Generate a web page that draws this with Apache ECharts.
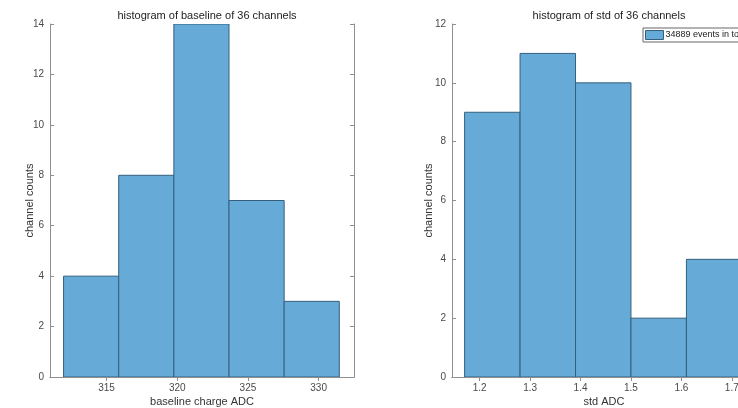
<!DOCTYPE html>
<html>
<head>
<meta charset="utf-8">
<script src="https://cdn.jsdelivr.net/npm/echarts@6/dist/echarts.min.js"></script>
<style>
  html, body { margin: 0; padding: 0; overflow: hidden; background: #fff; }
  #chart { width: 800px; height: 408px; }
</style>
</head>
<body>
<div id="chart"></div>
<script>
// baseline histogram (left)
const baseEdges = [311.96, 315.86, 319.76, 323.66, 327.56, 331.46];
const baseCounts = [4, 8, 14, 7, 3];
const baseTicks = [315, 320, 325, 330];

// std histogram (right)
const stdEdges = [1.170, 1.280, 1.390, 1.500, 1.610, 1.720];
const stdCounts = [9, 11, 10, 2, 4];
const stdTicks = [1.2, 1.3, 1.4, 1.5, 1.6, 1.7];

const legendName = '34889 events in total';

const fillColor = '#66aad7';
const edgeColor = '#34607e';
const boxColor = '#8f8f8f';
const textColor = '#4a4a4a';
const font = 'Liberation Sans, Arial, sans-serif';

function toBins(edges, counts) {
  return counts.map((c, i) => [edges[i], edges[i + 1], c]);
}

function renderBin(params, api) {
  const p0 = api.coord([api.value(0), api.value(2)]);
  const p1 = api.coord([api.value(1), 0]);
  return {
    type: 'rect',
    shape: { x: p0[0], y: p0[1], width: p1[0] - p0[0], height: p1[1] - p0[1] },
    style: { fill: fillColor, stroke: edgeColor, lineWidth: 1 }
  };
}

function xAxes(gridIndex, min, max, ticks, name) {
  const lbl = v => (Number.isInteger(v) ? String(v) : v.toFixed(1));
  return [{
    type: 'value', gridIndex, min, max, position: 'bottom',
    name, nameLocation: 'middle', nameGap: 19, nameMoveOverlap: false,
    nameTextStyle: { color: '#333', fontSize: 11, fontFamily: font },
    axisLine: { show: true, lineStyle: { color: boxColor } },
    axisTick: { show: true, inside: true, length: 4, customValues: ticks, lineStyle: { color: boxColor } },
    axisLabel: { customValues: ticks, formatter: lbl, color: textColor, fontSize: 10, fontFamily: font, margin: 6 },
    splitLine: { show: false }
  }, {
    type: 'value', gridIndex, min, max, position: 'top',
    axisLine: { show: true, lineStyle: { color: boxColor } },
    axisTick: { show: true, inside: true, length: 4, customValues: ticks, lineStyle: { color: boxColor } },
    axisLabel: { show: false },
    splitLine: { show: false }
  }];
}

function yAxes(gridIndex, max, gap) {
  return [{
    type: 'value', gridIndex, min: 0, max, interval: 2, position: 'left',
    name: 'channel counts', nameLocation: 'middle', nameGap: gap, nameMoveOverlap: false,
    nameTextStyle: { color: '#333', fontSize: 11, fontFamily: font },
    axisLine: { show: true, lineStyle: { color: boxColor } },
    axisTick: { show: true, inside: true, length: 4, lineStyle: { color: boxColor } },
    axisLabel: { color: textColor, fontSize: 10, fontFamily: font, margin: 6 },
    splitLine: { show: false }
  }, {
    type: 'value', gridIndex, min: 0, max, interval: 2, position: 'right',
    axisLine: { show: true, lineStyle: { color: boxColor } },
    axisTick: { show: true, inside: true, length: 4, lineStyle: { color: boxColor } },
    axisLabel: { show: false },
    splitLine: { show: false }
  }];
}

const chart = echarts.init(document.getElementById('chart'));

const option = {
  animation: false,
  title: [
    { text: 'histogram of baseline of 36 channels', left: 202, top: 5, textAlign: 'center',
      textStyle: { fontSize: 11, fontWeight: 'normal', color: '#222', fontFamily: font } },
    { text: 'histogram of std of 36 channels', left: 604, top: 5, textAlign: 'center',
      textStyle: { fontSize: 11, fontWeight: 'normal', color: '#222', fontFamily: font } }
  ],
  legend: {
    left: 643, top: 28,
    data: [{ name: legendName, icon: 'rect' }],
    itemWidth: 18, itemHeight: 9, itemGap: 2,
    padding: [2, 3, 2, 2],
    borderColor: '#666', borderWidth: 1, borderRadius: 0,
    backgroundColor: '#fff',
    textStyle: { fontSize: 9, color: '#222', fontFamily: font, padding: [0, 0, 0, -3] },
    itemStyle: { color: fillColor, borderColor: edgeColor, borderWidth: 1 }
  },
  grid: [
    { left: 50, top: 24, width: 304, height: 353, outerBoundsMode: 'none', containLabel: false },
    { left: 452, top: 24, width: 304, height: 353, outerBoundsMode: 'none', containLabel: false }
  ],
  xAxis: [
    ...xAxes(0, 311, 332.5, baseTicks, 'baseline charge ADC'),
    ...xAxes(1, 1.145, 1.748, stdTicks, 'std ADC')
  ],
  yAxis: [
    ...yAxes(0, 14, 15),
    ...yAxes(1, 12, 18)
  ],
  series: [
    { type: 'custom', name: 'baseline', xAxisIndex: 0, yAxisIndex: 0,
      data: toBins(baseEdges, baseCounts), renderItem: renderBin, clip: true },
    { type: 'custom', name: legendName, xAxisIndex: 2, yAxisIndex: 2,
      data: toBins(stdEdges, stdCounts), renderItem: renderBin, clip: true,
      itemStyle: { color: fillColor } }
  ]
};

chart.setOption(option);
</script>
</body>
</html>
